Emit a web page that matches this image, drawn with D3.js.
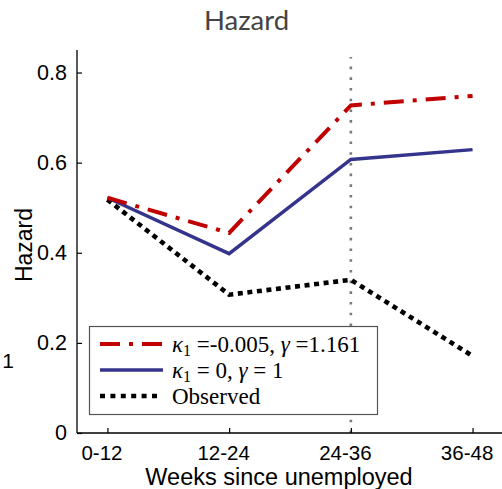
<!DOCTYPE html>
<html>
<head>
<meta charset="utf-8">
<script src="https://cdn.jsdelivr.net/npm/d3@7"></script>
<style>
  html, body { margin: 0; padding: 0; background: #fff; }
  svg { display: block; }
</style>
</head>
<body>
<svg id="chart" width="502" height="489"></svg>
<script>
// ---- data ----
const categories = ["0-12", "12-24", "24-36", "36-48"];
const modelKappa = [0.522, 0.444, 0.727, 0.748];   // kappa1=-0.005, gamma=1.161
const modelBase  = [0.522, 0.398, 0.607, 0.629];   // kappa1=0, gamma=1
const observed   = [0.518, 0.307, 0.340, 0.171];
const yTicks = [0, 0.2, 0.4, 0.6, 0.8];
const yTickLabels = ["0", "0.2", "0.4", "0.6", "0.8"];
const markerCategory = "24-36";

// ---- layout ----
const svg = d3.select("#chart");
const pLeft = 77, pRight = 503, pTop = 50, pBottom = 433;

const x = d3.scaleLinear().domain([0.75, 4.25]).range([pLeft, pRight]);
const y = d3.scaleLinear().domain([0, 0.85]).range([pBottom, pTop]);
const xi = i => x(i + 1);

const sans = "'Liberation Sans', Arial, Helvetica, sans-serif";
const serif = "'Liberation Serif', 'Times New Roman', serif";

// title
svg.append("text")
  .attr("x", 246.5).attr("y", 30)
  .attr("text-anchor", "middle")
  .attr("font-family", "Lato, sans-serif")
  .attr("font-size", 27.5)
  .attr("fill", "#444")
  .text("Hazard");

// stray label
svg.append("text")
  .attr("x", 8).attr("y", 368)
  .attr("text-anchor", "middle")
  .attr("font-family", sans)
  .attr("font-size", 21)
  .attr("fill", "#000")
  .text("1");

// vertical dotted marker
const mIdx = categories.indexOf(markerCategory);
svg.append("line")
  .attr("x1", xi(mIdx)).attr("x2", xi(mIdx))
  .attr("y1", pBottom).attr("y2", 57)
  .attr("stroke", "#7a7a7a")
  .attr("stroke-width", 2.6)
  .attr("stroke-dasharray", "2.6,8.1");

// axes
const yAxis = d3.axisLeft(y)
  .tickValues(yTicks)
  .tickFormat((d, i) => yTickLabels[i])
  .tickSizeInner(-5).tickSizeOuter(0).tickPadding(10);
const gy = svg.append("g").attr("transform", `translate(${pLeft},0)`).call(yAxis);
gy.select(".domain").attr("d", `M0,${pBottom}V${pTop}`).attr("stroke-width", 1.3);
gy.selectAll(".tick line").attr("stroke-width", 1.2);
gy.selectAll(".tick text")
  .attr("font-family", sans).attr("font-size", 21.5).attr("fill", "#000");

const xAxis = d3.axisBottom(x)
  .tickValues(categories.map((c, i) => i + 1))
  .tickFormat((d, i) => categories[i])
  .tickSizeInner(-5).tickSizeOuter(0).tickPadding(12);
const gx = svg.append("g").attr("transform", `translate(0,${pBottom})`).call(xAxis);
gx.select(".domain").attr("d", `M${pLeft},0H${pRight}`).attr("stroke-width", 1.3);
gx.selectAll(".tick line").attr("stroke-width", 1.2);
gx.selectAll(".tick text")
  .attr("font-family", sans).attr("font-size", 20.5).attr("fill", "#000")
  .attr("dx", -6);

// axis labels
svg.append("text")
  .attr("transform", "translate(32,245) rotate(-90)")
  .attr("text-anchor", "middle")
  .attr("font-family", sans).attr("font-size", 23)
  .text("Hazard");
svg.append("text")
  .attr("x", 279).attr("y", 485)
  .attr("text-anchor", "middle")
  .attr("font-family", sans).attr("font-size", 23.5)
  .text("Weeks since unemployed");

// series
const series = [
  { values: observed,   color: "#000000", width: 4.6, dash: "5,4.6" },
  { values: modelBase,  color: "#34348c", width: 3.4, dash: null },
  { values: modelKappa, color: "#c00000", width: 4,   dash: "20,9,4,9" }
];
const line = d3.line().x((d, i) => xi(i)).y(d => y(d));
series.forEach(s => {
  svg.append("path")
    .datum(s.values)
    .attr("d", line)
    .attr("fill", "none")
    .attr("stroke", s.color)
    .attr("stroke-width", s.width)
    .attr("stroke-linejoin", "miter")
    .attr("stroke-dasharray", s.dash);
});

// legend
const lg = svg.append("g");
lg.append("rect")
  .attr("x", 89.5).attr("y", 326.5)
  .attr("width", 288).attr("height", 88)
  .attr("fill", "#fff")
  .attr("stroke", "#555")
  .attr("stroke-width", 1.2);

const legendItems = [
  { color: "#c00000", width: 4,   dash: "20,9,4,9", ly: 344, x2: 163 },
  { color: "#34348c", width: 3.4, dash: null,       ly: 370, x2: 163 },
  { color: "#000000", width: 4.6, dash: "5,5.4",    ly: 396, x2: 157 }
];
legendItems.forEach(it => {
  lg.append("line")
    .attr("x1", 100).attr("x2", it.x2)
    .attr("y1", it.ly).attr("y2", it.ly)
    .attr("stroke", it.color)
    .attr("stroke-width", it.width)
    .attr("stroke-dasharray", it.dash);
});

function mathLabel(yb, parts) {
  const t = lg.append("text")
    .attr("x", 172).attr("y", yb)
    .attr("font-family", serif).attr("font-size", 23).attr("fill", "#000");
  parts.forEach(p => {
    const ts = t.append("tspan").text(p.t);
    if (p.it) ts.attr("font-style", "italic");
    if (p.sub) ts.attr("font-size", 16).attr("dy", 4);
    if (p.up) ts.attr("dy", -4);
  });
}
mathLabel(352, [
  { t: "κ", it: true }, { t: "1", sub: true },
  { t: " =-0.005, ", up: true }, { t: "γ", it: true }, { t: " =1.161" }
]);
mathLabel(378, [
  { t: "κ", it: true }, { t: "1", sub: true },
  { t: " = 0, ", up: true }, { t: "γ", it: true }, { t: " = 1" }
]);
mathLabel(404, [{ t: "Observed" }]);
</script>
</body>
</html>
